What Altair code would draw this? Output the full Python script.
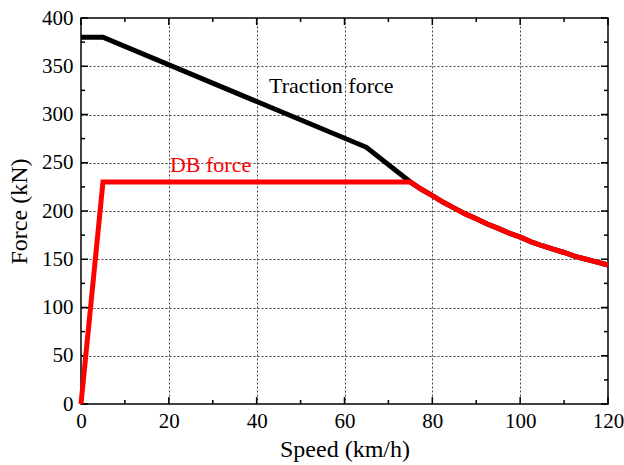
import altair as alt
import pandas as pd

# Data
trac_speed = [0, 5, 65, 75, 77.5, 80, 82.5, 85, 87.5, 90, 92.5, 95, 97.5, 100, 102.5, 105, 107.5, 110, 112.5, 115, 117.5, 120]
trac_force = [380, 380, 266, 230, 222.5, 216, 209, 203, 197, 192, 186.5, 182, 177, 173, 168, 164, 160.5, 157, 153, 150, 147, 144]
db_speed = [0, 5, 75, 77.5, 80, 82.5, 85, 87.5, 90, 92.5, 95, 97.5, 100, 102.5, 105, 107.5, 110, 112.5, 115, 117.5, 120]
db_force = [0, 230, 230, 222.5, 216, 209, 203, 197, 192, 186.5, 182, 177, 173, 168, 164, 160.5, 157, 153, 150, 147, 144]

x_major = [0, 20, 40, 60, 80, 100, 120]
x_minor = [10, 30, 50, 70, 90, 110]
y_major = [0, 50, 100, 150, 200, 250, 300, 350, 400]
y_minor = [25, 75, 125, 175, 225, 275, 325, 375]

labels = ["Traction force", "DB force"]
label_x = [57, 29.5]
label_y = [322, 240]
label_colors = ["black", "red"]

FONT = "Liberation Serif"
XMAX, YMAX = 120, 400
W, H = 527, 386
# tick lengths converted from pixels into data units
xu = XMAX / W
yu = YMAX / H
MAJ, MIN = 7, 4

traction = pd.DataFrame({"speed": trac_speed, "force": trac_force, "order": range(len(trac_speed))})
db = pd.DataFrame({"speed": db_speed, "force": db_force, "order": range(len(db_speed))})

xs = alt.Scale(domain=[0, XMAX], nice=False)
ys = alt.Scale(domain=[0, YMAX], nice=False)

x_axis = alt.Axis(values=x_major, title="Speed (km/h)", labelFont=FONT, labelFontSize=21,
                  labelColor="black", titleFont=FONT, titleFontSize=24, titleFontWeight="normal",
                  titleColor="black", ticks=False, domain=False, grid=True, gridDash=[2, 2],
                  gridColor="#444", gridOpacity=1, labelPadding=6, titlePadding=6,
                  labelFlush=False)
y_axis = alt.Axis(values=y_major, title="Force (kN)", labelFont=FONT, labelFontSize=21,
                  labelColor="black", titleFont=FONT, titleFontSize=24, titleFontWeight="normal",
                  titleColor="black", ticks=False, domain=False, grid=True, gridDash=[2, 2],
                  gridColor="#444", gridOpacity=1, labelPadding=8, titlePadding=10,
                  labelFlush=False)

base_line = alt.Chart(traction).mark_line(color="black", strokeWidth=5, strokeJoin="miter").encode(
    x=alt.X("speed:Q", scale=xs, axis=x_axis),
    y=alt.Y("force:Q", scale=ys, axis=y_axis),
    order="order:Q",
)
db_line = alt.Chart(db).mark_line(color="red", strokeWidth=5, strokeJoin="miter").encode(
    x=alt.X("speed:Q", scale=xs),
    y=alt.Y("force:Q", scale=ys),
    order="order:Q",
)

# inward ticks on all four sides
rows = []
for v in x_major:
    rows.append({"x": v, "x2": v, "y": 0, "y2": MAJ * yu})
    rows.append({"x": v, "x2": v, "y": YMAX, "y2": YMAX - MAJ * yu})
for v in x_minor:
    rows.append({"x": v, "x2": v, "y": 0, "y2": MIN * yu})
    rows.append({"x": v, "x2": v, "y": YMAX, "y2": YMAX - MIN * yu})
for v in y_major:
    rows.append({"x": 0, "x2": MAJ * xu, "y": v, "y2": v})
    rows.append({"x": XMAX, "x2": XMAX - MAJ * xu, "y": v, "y2": v})
for v in y_minor:
    rows.append({"x": 0, "x2": MIN * xu, "y": v, "y2": v})
    rows.append({"x": XMAX, "x2": XMAX - MIN * xu, "y": v, "y2": v})
ticks = alt.Chart(pd.DataFrame(rows)).mark_rule(color="black", strokeWidth=1.5).encode(
    x=alt.X("x:Q", scale=xs), x2="x2:Q",
    y=alt.Y("y:Q", scale=ys), y2="y2:Q",
)

txt = alt.Chart(pd.DataFrame({"t": labels, "x": label_x, "y": label_y, "c": label_colors})).mark_text(
    font=FONT, fontSize=22, align="center", baseline="alphabetic"
).encode(
    x=alt.X("x:Q", scale=xs),
    y=alt.Y("y:Q", scale=ys),
    text="t:N",
    color=alt.Color("c:N", scale=None),
)

chart = alt.layer(ticks, base_line, db_line, txt).properties(
    width=W, height=H,
    padding={"left": 81, "top": 18, "right": 16, "bottom": 61},
    autosize="none",
    background="white",
).configure(font=FONT).configure_axis(
    labelFont=FONT, titleFont=FONT
).configure_text(font=FONT).configure_view(stroke="black", strokeWidth=1.5)

chart.save("out.html", embed_options={"renderer": "svg", "actions": False})
